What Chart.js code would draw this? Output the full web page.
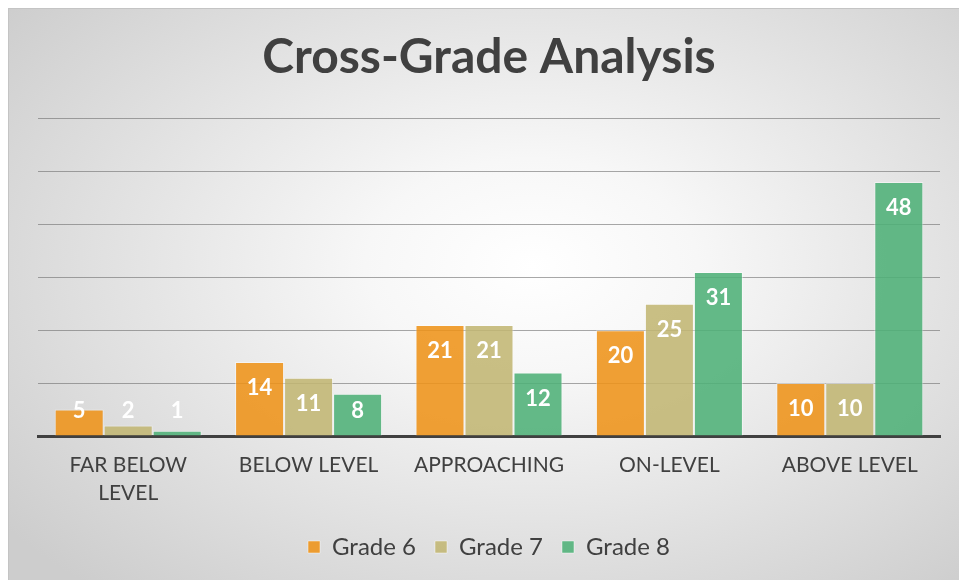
<!DOCTYPE html>
<html>
<head>
<meta charset="utf-8">
<script src="https://cdn.jsdelivr.net/npm/chart.js@4"></script>
<style>
  html, body { margin: 0; padding: 0; background: #ffffff; }
  #box {
    position: absolute; left: 8px; top: 8px; width: 951px; height: 572px;
    border-top: 1px solid #c4c4c4; border-left: 1px solid #c4c4c4;
    box-sizing: border-box;
    background: radial-gradient(ellipse 70% 75% at 55% 45%, #ffffff 0%, #f7f7f7 25%, #cdcdcd 100%);
  }
  canvas { display: block; }
</style>
</head>
<body>
<div id="box"><canvas id="c"></canvas></div>
<script>
const categories = [["FAR BELOW", "LEVEL"], "BELOW LEVEL", "APPROACHING", "ON-LEVEL", "ABOVE LEVEL"];
const seriesNames = ["Grade 6", "Grade 7", "Grade 8"];
const grade6 = [5, 14, 21, 20, 10];
const grade7 = [2, 11, 21, 25, 10];
const grade8 = [1, 8, 12, 31, 48];
const titleText = "Cross-Grade Analysis";

const colors = ["rgba(238,147,25,0.88)", "rgba(193,182,115,0.88)", "rgba(78,177,119,0.88)"];
const FONT = "Lato, 'Open Sans', sans-serif";
const TEXT = "#404040";

const valueLabels = {
  id: "valueLabels",
  afterDatasetsDraw(chart) {
    const ctx = chart.ctx;
    const base = chart.scales.y.getPixelForValue(0);
    ctx.save();
    ctx.fillStyle = "#ffffff";
    ctx.font = "bold 22px " + FONT;
    ctx.textAlign = "center";
    ctx.textBaseline = "middle";
    chart.data.datasets.forEach((ds, i) => {
      const meta = chart.getDatasetMeta(i);
      meta.data.forEach((bar, j) => {
        const y = Math.min(bar.y + 26, base - 25);
        ctx.fillText(String(ds.data[j]), bar.x, y);
      });
    });
    ctx.restore();
  }
};

new Chart(document.getElementById("c"), {
  type: "bar",
  data: {
    labels: categories,
    datasets: [
      { label: seriesNames[0], data: grade6, backgroundColor: colors[0] },
      { label: seriesNames[1], data: grade7, backgroundColor: colors[1] },
      { label: seriesNames[2], data: grade8, backgroundColor: colors[2] }
    ].map(d => Object.assign(d, {
      borderColor: "rgba(255,255,255,0.45)", borderWidth: 1,
      categoryPercentage: 0.815, barPercentage: 1.0
    }))
  },
  options: {
    responsive: true,
    maintainAspectRatio: false,
    animation: false,
    layout: { padding: { left: 29, right: 19, top: 0, bottom: 11 } },
    plugins: {
      title: {
        display: true, text: titleText, color: TEXT,
        font: { family: FONT, size: 48, weight: "bold", lineHeight: 1.2 },
        padding: { top: 20, bottom: 32 }
      },
      legend: {
        position: "bottom",
        labels: {
          color: TEXT, boxWidth: 12, boxHeight: 12, padding: 19,
          font: { family: FONT, size: 24 }
        }
      },
      tooltip: { enabled: false }
    },
    scales: {
      x: {
        grid: { display: false },
        border: { display: true, color: "#404040", width: 3 },
        ticks: { color: TEXT, font: { family: FONT, size: 21, lineHeight: 1.333 }, padding: 7, maxRotation: 0, autoSkip: false },
        afterFit: s => { s.height = 80; }
      },
      y: {
        min: 0, max: 60,
        ticks: { display: false, stepSize: 10 },
        border: { display: false },
        grid: { color: "rgba(110,110,110,0.6)", lineWidth: 1, drawTicks: false }
      }
    }
  },
  plugins: [valueLabels]
});
</script>
</body>
</html>
